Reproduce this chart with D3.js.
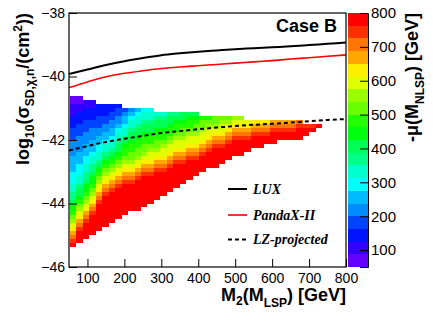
<!DOCTYPE html>
<html>
<head>
<meta charset="utf-8">
<script src="https://cdn.jsdelivr.net/npm/d3@7"></script>
<style>
  html, body { margin: 0; padding: 0; background: #fff; }
  svg { display: block; }
  text { font-family: "Liberation Sans", Arial, sans-serif; fill: #000; }
</style>
</head>
<body>
<script>

// ---- heat map: -mu(M_NLSP) in bins of M2 and log10(sigma_SD) ----
const m2BinLow = 52.5;      // GeV, low edge of first M2 bin
const m2BinWidth = 17.5;    // GeV
const sigmaBinTop = -40.625; // top edge of row 0
const sigmaBinHeight = 0.125;

// contour levels of the z axis: 20 levels from 50 to 800 GeV
const muLow = 50;
const muHigh = 800;
const muLevels = 20;

// first occupied row of each M2 column
const colFirstRow = [0, 0, 1, 1, 2, 2, 2, 2, 3, 3, 3, 3, 3, 4, 4, 4, 4, 4, 4, 4,
                     5, 5, 5, 5, 5, 5, 5, 6, 6, 6, 6, 6, 6, 6, 6, 6, 7, 7, 7];

// level index (0-9, a-j) of each cell, top to bottom, one string per M2 column
const muColumns = [
  "00111222333444455556667788" + "9aabcdefghij",
  "0011222333444455566677899abcdefghijjj",
  "11222333444555667788" + "9aabcdefghijjjj",
  "112223344455567788" + "9aabcdefghijjjjj",
  "2223334455667789abcdefghijjjjjjj",
  "22233445567789abcdefghijjjjjjjj",
  "2233445567789abcdefghijjjjjjjj",
  "233445677899abcdefghijjjjjjjj",
  "345567789abbcdefghijjjjjjjj",
  "45677899abbccdefghijjjjjjj",
  "5677899abbccdefghijjjjjjjj",
  "677899abbccdefghijjjjjjjj",
  "677899abbcdeefghijjjjjjj",
  "7899abbccdefghijjjjjjj",
  "7899abbcdeefghijjjjjj",
  "899abbcdeefghijjjjjj",
  "89abbcdeefghijjjjjj",
  "99abccdeefghijjjjj",
  "9abbcdeefghijjjjj",
  "9abccdeefghijjjj",
  "bccdeefghijjjj",
  "bcdeefghijjjj",
  "ccdefghijjjjj",
  "cdeefghijjjj",
  "cdefghijjjj",
  "defghijjjj",
  "defghijjjj",
  "efghijjj",
  "fghijjj",
  "fghijjj",
  "fghijj",
  "ghijjj",
  "ghijj",
  "ghijj",
  "ghijj",
  "hijjj",
  "ijj",
  "ij",
  "j"
];

// ---- limit curves, log10(sigma) vs M2 ----
const m2Grid = [50, 100, 150, 200, 250, 300, 350, 400, 450, 500, 550, 600, 650, 700, 750, 800];
const luxLimit = [-39.92, -39.78, -39.64, -39.52, -39.42, -39.33, -39.27, -39.22,
                  -39.18, -39.14, -39.11, -39.08, -39.05, -39.01, -38.97, -38.93];
const pandaxLimit = [-40.35, -40.17, -40.01, -39.90, -39.82, -39.75, -39.70, -39.66,
                     -39.62, -39.58, -39.54, -39.50, -39.45, -39.41, -39.36, -39.32];
const lzProjected = [-42.33, -42.19, -42.06, -41.96, -41.87, -41.78, -41.72, -41.66,
                     -41.61, -41.56, -41.52, -41.49, -41.45, -41.41, -41.37, -41.34];

// ---- axis ticks ----
const yTickLabels = [-46, -44, -42, -40, -38];
const xTickLabels = [100, 200, 300, 400, 500, 600, 700, 800];
const zTickLabels = [100, 200, 300, 400, 500, 600, 700, 800];
const legendNames = ["LUX", "PandaX-II", "LZ-projected"];


const width = 433;
const height = 314;
const frame = { left: 69, right: 346, top: 13, bottom: 267 };
const bar = { left: 348, right: 368 };

var svg = d3.select('body').append('svg')
	.attr('width', width)
	.attr('height', height);

var xScale = d3.scaleLinear().domain([50, 800]).range([frame.left, frame.right]);
var yScale = d3.scaleLinear().domain([-46, -38]).range([frame.bottom, frame.top]);
var zScale = d3.scaleLinear().domain([muLow, muHigh]).range([frame.bottom, frame.top]);

// ROOT "pretty palette" (50 colours), sampled for 20 contours
function paletteColor(level) {
	var idx = Math.floor((level + 0.99) * 50 / muLevels);
	var hue = 280 - (idx + 1) * 5.6;
	return d3.hsl(hue, 1, 0.5).formatHex();
}
var levelColors = d3.range(muLevels).map(paletteColor);
var colorScale = d3.scaleQuantize().domain([muLow, muHigh]).range(levelColors);
var muStep = (muHigh - muLow) / muLevels;

// build the cell list from the column strings
var cells = [];
muColumns.forEach(function(col, i) {
	for (var r = 0; r < col.length; r++) {
		var level = parseInt(col[r], 20);
		cells.push({
			m2: m2BinLow + i * m2BinWidth,
			sigma: sigmaBinTop - (colFirstRow[i] + r) * sigmaBinHeight,
			mu: muLow + (level + 0.5) * muStep
		});
	}
});

svg.append('g').classed('cells', true)
	.selectAll('rect').data(cells).enter().append('rect')
	.attr('x', d => xScale(d.m2))
	.attr('y', d => yScale(d.sigma))
	.attr('width', d => xScale(d.m2 + m2BinWidth) - xScale(d.m2))
	.attr('height', d => yScale(d.sigma - sigmaBinHeight) - yScale(d.sigma))
	.attr('fill', d => colorScale(d.mu))
	.attr('shape-rendering', 'crispEdges');

// limit curves
var curve = d3.line()
	.x((d, i) => xScale(m2Grid[i]))
	.y(d => yScale(d))
	.curve(d3.curveMonotoneX);

var curveStyles = [
	{ data: luxLimit, color: '#000', w: 2, dash: null },
	{ data: pandaxLimit, color: '#ff0000', w: 1.6, dash: null },
	{ data: lzProjected, color: '#000', w: 2, dash: '4,3' }
];
curveStyles.forEach(function(c) {
	svg.append('path')
		.attr('d', curve(c.data))
		.attr('fill', 'none')
		.attr('stroke', c.color)
		.attr('stroke-width', c.w)
		.attr('stroke-dasharray', c.dash);
});

// frame
svg.append('rect')
	.attr('x', frame.left).attr('y', frame.top)
	.attr('width', frame.right - frame.left)
	.attr('height', frame.bottom - frame.top)
	.attr('fill', 'none').attr('stroke', '#000').attr('stroke-width', 1.2);

// y axis (ticks inside the frame)
var yAxisGroup = svg.append('g').attr('transform', `translate(${frame.left},0)`);
yAxisGroup.call(d3.axisLeft(yScale).tickValues(d3.range(-46, -37.9, 0.5)).tickSize(-4).tickFormat(''));
yAxisGroup.call(d3.axisLeft(yScale).tickValues(yTickLabels).tickSize(-8).tickPadding(4)
	.tickFormat(d => String(d).replace('-', '\u2212')));
yAxisGroup.selectAll('.domain').remove();
yAxisGroup.selectAll('text').style('font-size', '14px').style('font-family', '"Liberation Sans", Arial, sans-serif');

// x axis
var xAxisGroup = svg.append('g').attr('transform', `translate(0,${frame.bottom})`);
xAxisGroup.call(d3.axisBottom(xScale).tickValues(d3.range(60, 801, 20)).tickSize(-4).tickFormat(''));
xAxisGroup.call(d3.axisBottom(xScale).tickValues(xTickLabels).tickSize(-8).tickPadding(6));
xAxisGroup.selectAll('.domain').remove();
xAxisGroup.selectAll('text').style('font-size', '14px').style('font-family', '"Liberation Sans", Arial, sans-serif');

// colour bar
svg.append('g').selectAll('rect').data(levelColors).enter().append('rect')
	.attr('x', bar.left)
	.attr('width', bar.right - bar.left)
	.attr('y', (d, i) => zScale(muLow + (i + 1) * muStep))
	.attr('height', (d, i) => zScale(muLow + i * muStep) - zScale(muLow + (i + 1) * muStep))
	.attr('fill', d => d)
	.attr('shape-rendering', 'crispEdges');

var zAxisGroup = svg.append('g').attr('transform', `translate(${bar.right},0)`);
zAxisGroup.call(d3.axisRight(zScale).tickValues(zTickLabels).tickSize(-8).tickPadding(3));
zAxisGroup.selectAll('.domain').attr('stroke', '#000');
zAxisGroup.selectAll('text').style('font-size', '15px').style('font-family', '"Liberation Sans", Arial, sans-serif');

// "Case B"
svg.append('text')
	.attr('x', 337).attr('y', 31.5)
	.attr('text-anchor', 'end')
	.style('font-size', '18px').style('font-weight', 'bold')
	.text('Case B');

// axis titles
var xTitle = svg.append('text')
	.attr('x', frame.right).attr('y', 301)
	.attr('text-anchor', 'end')
	.style('font-size', '18px').style('font-weight', 'bold');
xTitle.append('tspan').text('M');
xTitle.append('tspan').attr('dy', 4).style('font-size', '12px').text('2');
xTitle.append('tspan').attr('dy', -4).text('(M');
xTitle.append('tspan').attr('dy', 6).style('font-size', '12px').text('LSP');
xTitle.append('tspan').attr('dy', -6).text(') [GeV]');

var yTitle = svg.append('text')
	.attr('transform', `translate(29,${frame.top}) rotate(-90)`)
	.attr('text-anchor', 'end')
	.style('font-size', '18px').style('font-weight', 'bold');
yTitle.append('tspan').text('log');
yTitle.append('tspan').attr('dy', 5).style('font-size', '12px').text('10');
yTitle.append('tspan').attr('dy', -5).text('(\u03c3');
yTitle.append('tspan').attr('dy', 5).style('font-size', '12px').text('SD,\u03c7,n');
yTitle.append('tspan').attr('dy', -5).text('/(cm');
yTitle.append('tspan').attr('dy', -7).style('font-size', '12px').text('2');
yTitle.append('tspan').attr('dy', 7).text('))');

var zTitle = svg.append('text')
	.attr('transform', `translate(418,${frame.top}) rotate(-90)`)
	.attr('text-anchor', 'end')
	.style('font-size', '18px').style('font-weight', 'bold');
zTitle.append('tspan').text('-\u03bc(M');
zTitle.append('tspan').attr('dy', 6).style('font-size', '12px').text('NLSP');
zTitle.append('tspan').attr('dy', -6).text(') [GeV]');

// legend
var legendY = [189, 215, 239.5];
legendNames.forEach(function(name, i) {
	var c = curveStyles[i];
	svg.append('line')
		.attr('x1', 228).attr('x2', 247)
		.attr('y1', legendY[i]).attr('y2', legendY[i])
		.attr('stroke', c.color).attr('stroke-width', c.w)
		.attr('stroke-dasharray', c.dash);
	svg.append('text')
		.attr('x', 253).attr('y', legendY[i] + 4.5)
		.style('font-family', '"Liberation Serif", "Times New Roman", serif')
		.style('font-style', 'italic').style('font-weight', 'bold')
		.style('font-size', '14px')
		.text(name);
});

</script>
</body>
</html>
